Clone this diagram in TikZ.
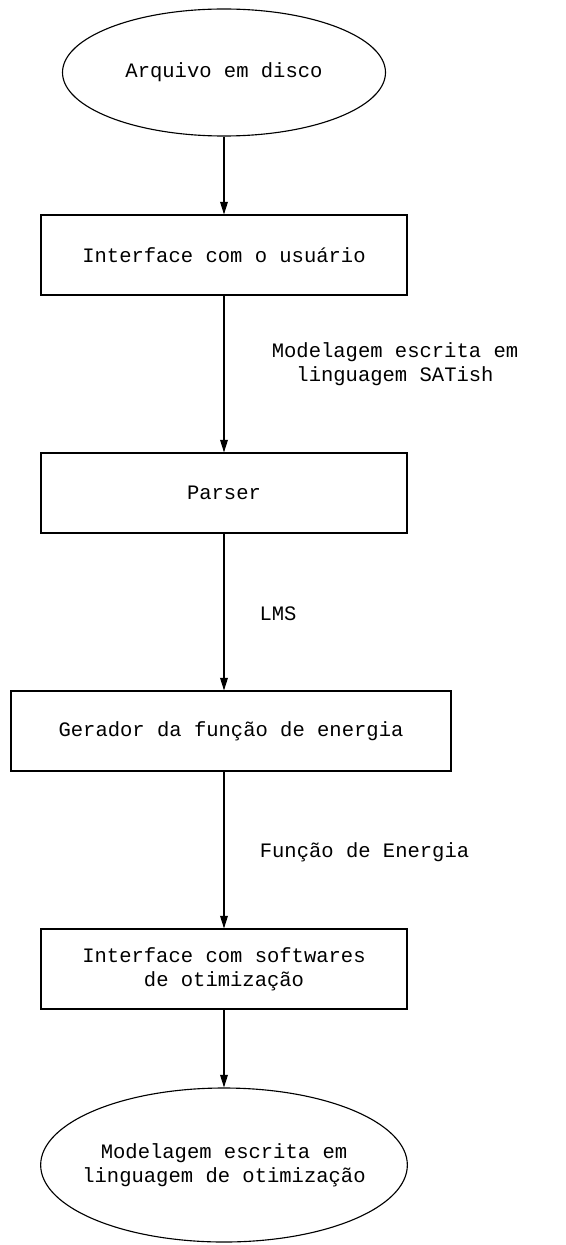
\documentclass[tikz,border=0pt]{standalone}
\usepackage{fontspec}
\setmonofont{Liberation Mono}
\usetikzlibrary{calc, shapes, arrows.meta}

\begin{document}
\begin{tikzpicture}[
	caixa/.style={rectangle, draw, line width=0.8pt, minimum height=2cm, align=center},
	elipse/.style={ellipse, draw, line width=0.8pt, align=center, inner sep=0pt},
	rotulo/.style={align=center},
	seta/.style={-{Triangle[length=9pt,width=5.5pt]}, line width=0.8pt},
	font=\fontsize{14.6}{17}\ttfamily
	]
	
	\useasboundingbox (0,0) rectangle (14.15,-31.125);
	
	\node[elipse, minimum width=8.075cm, minimum height=3.175cm] (arquivo) at (5.6,-1.8125) {Arquivo em disco};
	
	\node[caixa, minimum width=9.15cm] (usuario) at (5.6,-6.375) {Interface com o usuário};
	\node[caixa, minimum width=9.15cm] (parser) at (5.6,-12.325) {Parser};
	\node[caixa, minimum width=11cm] (gerador) at (5.775,-18.275) {Gerador da função de energia};
	\node[caixa, minimum width=9.15cm] (softwares) at (5.6,-24.225) {Interface com softwares\\de otimização};
	
	\node[elipse, inner xsep=-0.3cm, minimum width=9.15cm, minimum height=3.85cm] (modelagem) at (5.6,-29.125) {Modelagem escrita em\\linguagem de otimização};
	
	\node[rotulo] (satish) at (9.875,-9.1) {Modelagem escrita em\\linguagem SATish};
	\node[rotulo] (lms) at (6.95,-15.35) {LMS};
	\node[rotulo] (energia) at (9.1125,-21.3) {Função de Energia};
	
	\draw[seta] (arquivo.south) -- (usuario.north);
	\draw[seta] (usuario.south) -- (parser.north);
	\draw[seta] (parser.south) -- (parser.south |- gerador.north);
	\draw[seta] (softwares.north |- gerador.south) -- (softwares.north);
	\draw[seta] (softwares.south) -- (modelagem.north);
	
\end{tikzpicture}
\end{document}
